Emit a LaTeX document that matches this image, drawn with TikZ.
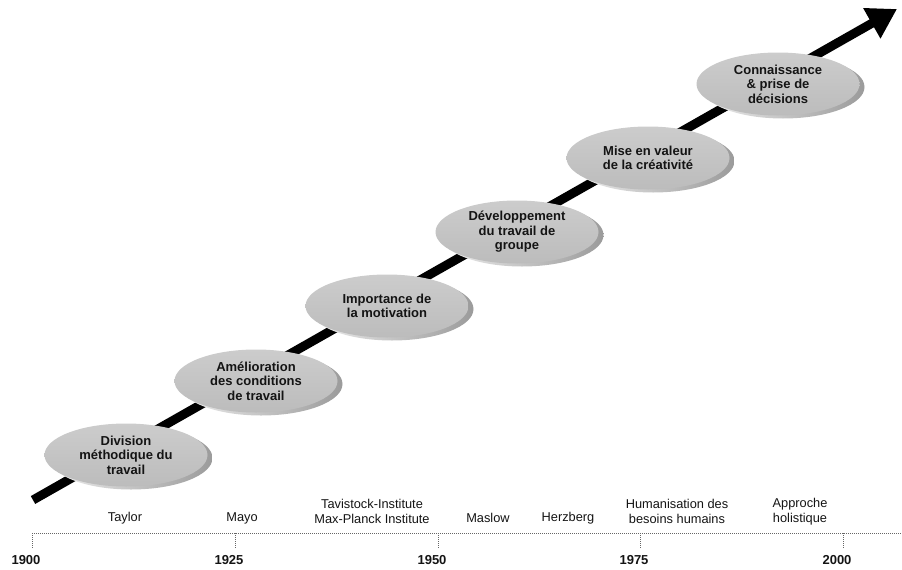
\documentclass[tikz,border=0pt]{standalone}
\usepackage{fontspec}
\setmainfont{Liberation Sans}
\usetikzlibrary{arrows.meta,shapes.geometric}
\definecolor{discTop}{RGB}{204,204,204}
\definecolor{discBot}{RGB}{188,188,188}
\definecolor{rimL}{RGB}{238,238,238}
\definecolor{rimR}{RGB}{155,155,155}
\definecolor{txt}{RGB}{20,20,20}
\begin{document}
\begin{tikzpicture}[x=1pt,y=-1pt,
  disc/.style={ellipse, minimum width=163pt, minimum height=63pt, inner sep=0pt,
     align=center, top color=discTop, bottom color=discBot, text=txt,
     font=\fontsize{13}{14.5}\selectfont\bfseries},
  rim/.style={left color=rimL, right color=rimR},
  bigarrow/.style={line width=9pt, black, -{Triangle[length=29pt,width=33pt]}},
  tline/.style={gray!80!black, line width=0.8pt, dash pattern=on 1pt off 1pt},
  lbl/.style={align=center, text=txt, font=\fontsize{12.8}{14.5}\selectfont},
  year/.style={text=txt, font=\fontsize{13}{15}\selectfont\bfseries}
]
\useasboundingbox (0,0) rectangle (902,570);
% main arrow
\coordinate (tail) at (33,500);
\coordinate (tip) at (897,9);
\draw[bigarrow] (tail) -- (tip);
% discs
\foreach \n/\x/\y/\t in {
  d1/126/455/{Division\\méthodique du\\travail},
  d2/256/381/{Amélioration\\des conditions\\de travail},
  d3/387/306/{Importance de\\la motivation},
  d4/517/232/{Développement\\du travail de\\groupe},
  d5/648/158/{Mise en valeur\\de la créativité},
  d6/778/84/{Connaissance\\\& prise de\\décisions}}{
  \shade[rim] (\x+5,\y+3) ellipse [x radius=81.5, y radius=31.5];
  \node[disc] (\n) at (\x,\y) {\t};
}
% timeline
\coordinate (t0) at (32,533);
\coordinate (tend) at (902,533);
\draw[tline] (t0) -- (tend);
\foreach \n/\x/\yr in {a/32/1900,b/235/1925,c/438/1950,d/640/1975,e/843/2000}{
  \coordinate (tk\n) at (\x,533);
  \coordinate (tb\n) at (\x,548);
  \draw[tline] (tk\n) -- (tb\n);
  \node[year] (y\n) at (\x-6,560) {\yr};
}
% names
\node[lbl] (taylor) at (125,518) {Taylor};
\node[lbl] (mayo) at (242,518) {Mayo};
\node[lbl] (tavi) at (372,511.5) {Tavistock-Institute\\Max-Planck Institute};
\node[lbl] (maslow) at (488,518) {Maslow};
\node[lbl] (herz) at (568,518) {Herzberg};
\node[lbl] (human) at (677,511.5) {Humanisation des\\besoins humains};
\node[lbl] (holi) at (800,511.5) {Approche\\holistique};
\end{tikzpicture}
\end{document}
